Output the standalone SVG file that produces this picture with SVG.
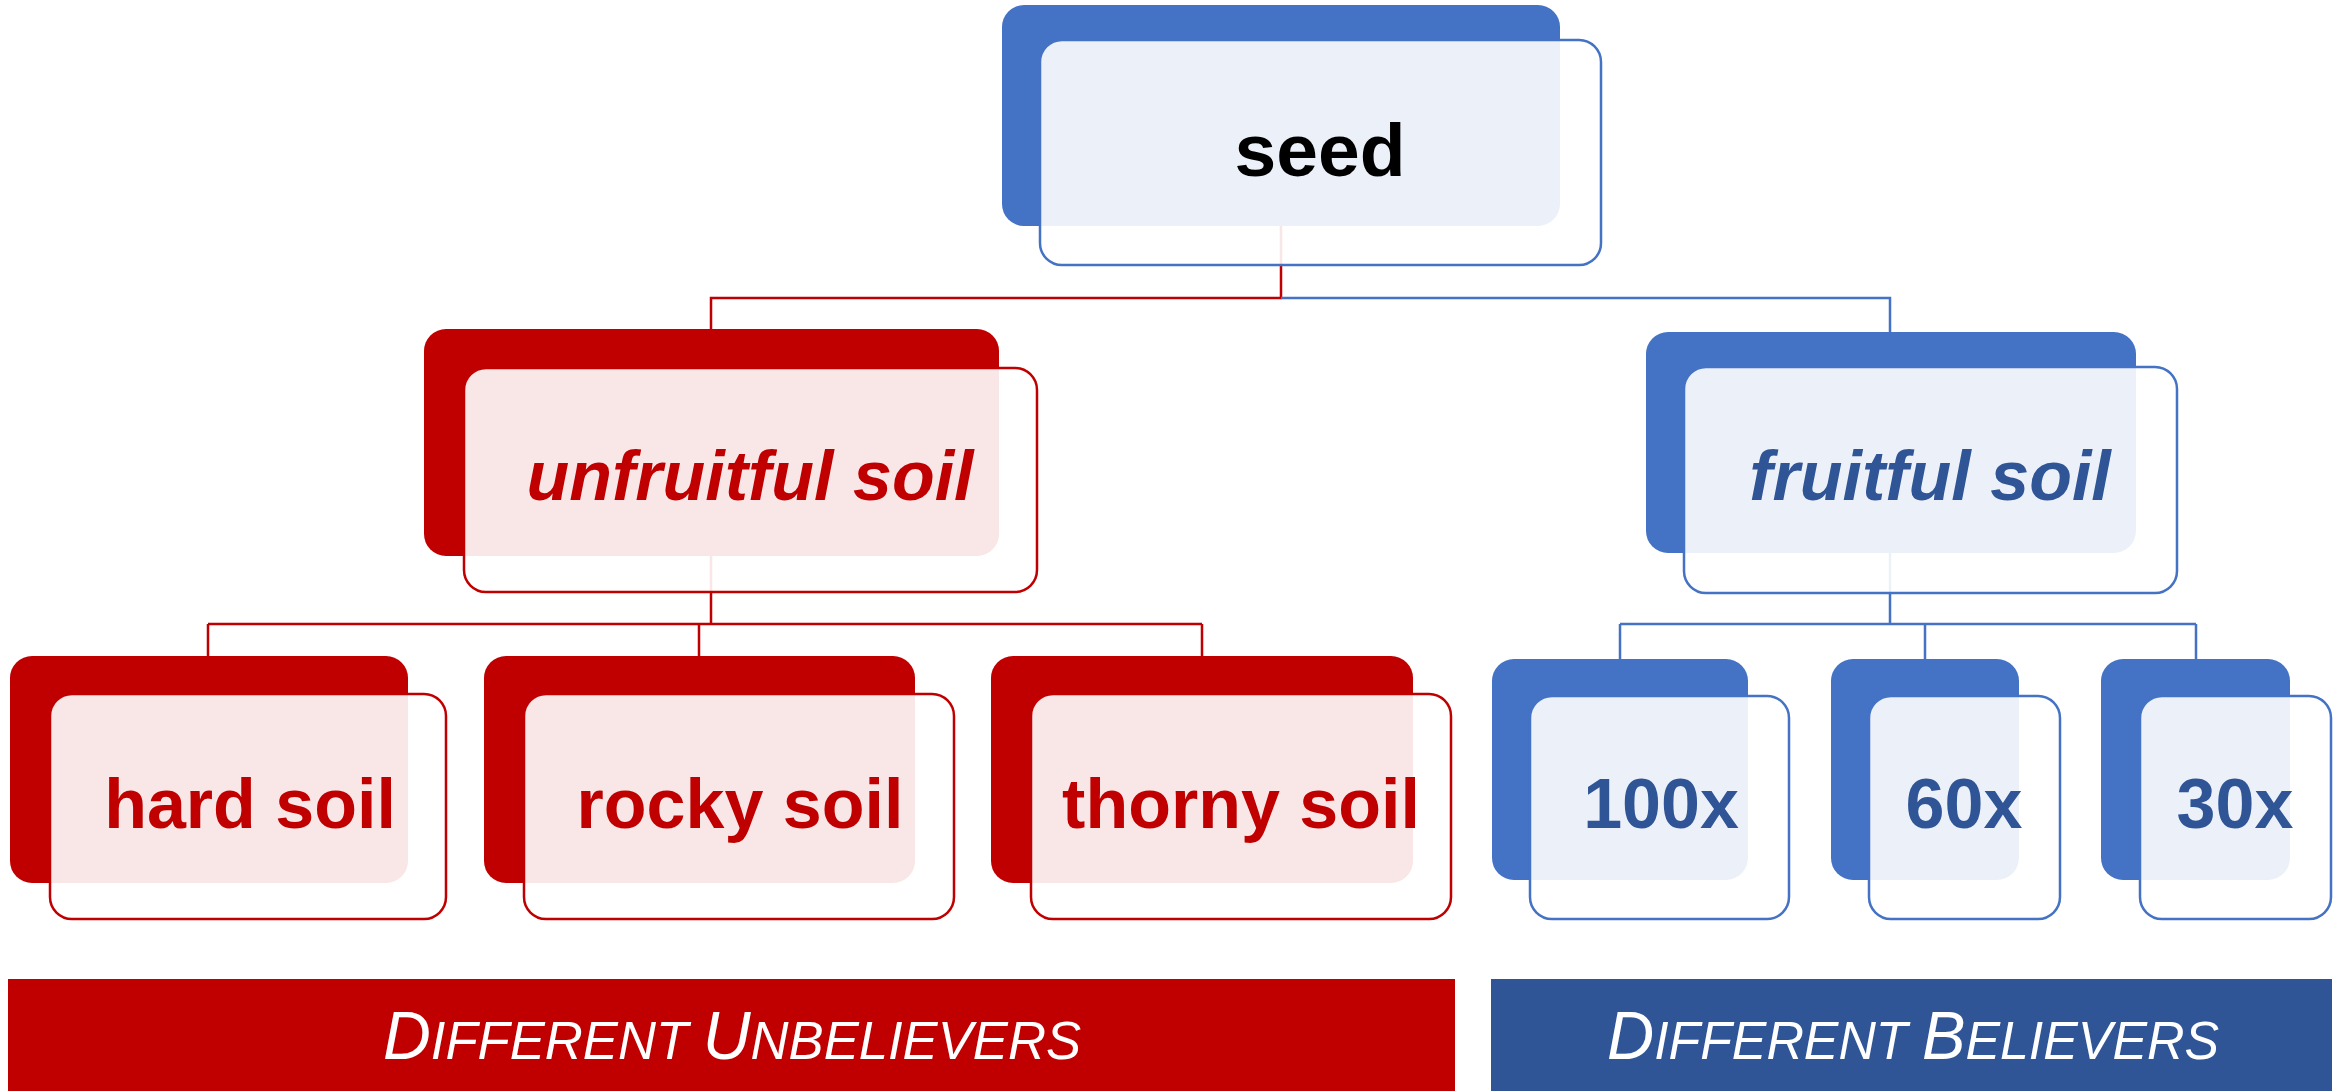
<svg xmlns="http://www.w3.org/2000/svg" width="2349" height="1091" viewBox="0 0 2349 1091">
<style>
.bgR{fill:#C00000}
.bgB{fill:#4472C4}
.fr{fill:#FFFFFF;fill-opacity:0.9;stroke-width:2.5}
.frR{stroke:#C00000}
.frB{stroke:#4472C4}
.lnR{fill:none;stroke:#C00000;stroke-width:2.5}
.lnB{fill:none;stroke:#4472C4;stroke-width:2.5}
.lbl{font-family:"Liberation Sans",Arial,sans-serif;font-weight:bold;font-size:70px;text-anchor:middle}
.tR{fill:#C00000}
.tB{fill:#2F5597}
.it{font-style:italic}
.ban{font-family:"Liberation Sans",Arial,sans-serif;font-style:italic;fill:#FFFFFF}
</style>
<rect width="2349" height="1091" fill="#FFFFFF"/>
<g id="connectors">
<path class="lnR" d="M1281,226 V298 H711 V329"/>
<path class="lnB" d="M1281,298 H1890 V332"/>
<path class="lnR" d="M711,556 V624 M208,624 H1202 M208,624 V656 M699,624 V656 M1202,624 V656"/>
<path class="lnB" d="M1890,553 V624 M1620,624 H2196 M1620,624 V659 M1925,624 V659 M2196,624 V659"/>
</g>
<g id="seed">
<rect class="bgB" x="1002" y="5" width="558" height="221" rx="22"/>
<rect class="fr frB" x="1040" y="40" width="561" height="225" rx="22"/>
<text class="lbl" x="1320" y="176" style="font-size:75px" fill="#000000">seed</text>
</g>
<g id="unfruitful">
<rect class="bgR" x="424" y="329" width="575" height="227" rx="22"/>
<rect class="fr frR" x="464" y="368" width="573" height="224" rx="22"/>
<text class="lbl it tR" x="750" y="500">unfruitful soil</text>
</g>
<g id="fruitful">
<rect class="bgB" x="1646" y="332" width="490" height="221" rx="22"/>
<rect class="fr frB" x="1684" y="367" width="493" height="226" rx="22"/>
<text class="lbl it tB" x="1930" y="500">fruitful soil</text>
</g>
<g id="hard">
<rect class="bgR" x="10" y="656" width="398" height="227" rx="22"/>
<rect class="fr frR" x="50" y="694" width="396" height="225" rx="22"/>
<text class="lbl tR" x="250" y="828">hard soil</text>
</g>
<g id="rocky">
<rect class="bgR" x="484" y="656" width="431" height="227" rx="22"/>
<rect class="fr frR" x="524" y="694" width="430" height="225" rx="22"/>
<text class="lbl tR" x="740" y="828">rocky soil</text>
</g>
<g id="thorny">
<rect class="bgR" x="991" y="656" width="422" height="227" rx="22"/>
<rect class="fr frR" x="1031" y="694" width="420" height="225" rx="22"/>
<text class="lbl tR" x="1241" y="828">thorny soil</text>
</g>
<g id="x100">
<rect class="bgB" x="1492" y="659" width="256" height="221" rx="22"/>
<rect class="fr frB" x="1530" y="696" width="259" height="223" rx="22"/>
<text class="lbl tB" x="1661" y="828">100x</text>
</g>
<g id="x60">
<rect class="bgB" x="1831" y="659" width="188" height="221" rx="22"/>
<rect class="fr frB" x="1869" y="696" width="191" height="223" rx="22"/>
<text class="lbl tB" x="1964" y="828">60x</text>
</g>
<g id="x30">
<rect class="bgB" x="2101" y="659" width="189" height="221" rx="22"/>
<rect class="fr frB" x="2140" y="696" width="191" height="223" rx="22"/>
<text class="lbl tB" x="2235" y="828">30x</text>
</g>
<g id="banner-unbelievers">
<rect x="8" y="979" width="1447" height="112" fill="#C00000"/>
<text class="ban" x="383" y="1059" textLength="698" lengthAdjust="spacingAndGlyphs"><tspan font-size="68">D</tspan><tspan font-size="54">IFFERENT </tspan><tspan font-size="68">U</tspan><tspan font-size="54">NBELIEVERS</tspan></text>
</g>
<g id="banner-believers">
<rect x="1491" y="979" width="841" height="112" fill="#2F5597"/>
<text class="ban" x="1607" y="1059" textLength="612" lengthAdjust="spacingAndGlyphs"><tspan font-size="68">D</tspan><tspan font-size="54">IFFERENT </tspan><tspan font-size="68">B</tspan><tspan font-size="54">ELIEVERS</tspan></text>
</g>
</svg>
